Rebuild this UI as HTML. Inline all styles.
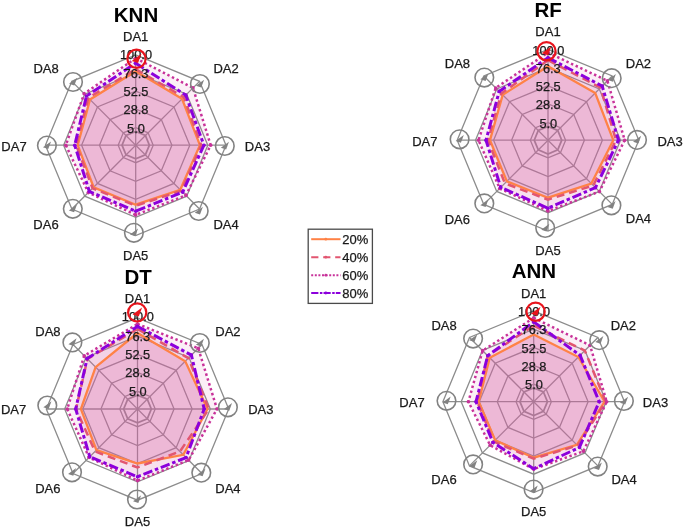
<!DOCTYPE html>
<html><head><meta charset="utf-8"><title>Radar charts</title>
<style>
html,body{margin:0;padding:0;background:#fff;}
body{width:685px;height:527px;position:relative;overflow:hidden;font-family:"Liberation Sans",sans-serif;}
svg text{font-family:"Liberation Sans",sans-serif;}
</style></head><body>
<svg width="685" height="527" viewBox="0 0 685 527" style="position:absolute;left:0;top:0;filter:blur(0.5px)">
<polygon points="135.70,131.52 145.37,135.53 149.38,145.20 145.37,154.87 135.70,158.88 126.03,154.87 122.02,145.20 126.03,135.53" fill="none" stroke="#8c8c8c" stroke-width="1.8"/>
<polygon points="135.70,127.68 148.09,132.81 153.22,145.20 148.09,157.59 135.70,162.72 123.31,157.59 118.18,145.20 123.31,132.81" fill="none" stroke="#8c8c8c" stroke-width="1.3"/>
<polygon points="135.70,108.99 161.30,119.60 171.91,145.20 161.30,170.80 135.70,181.41 110.10,170.80 99.49,145.20 110.10,119.60" fill="none" stroke="#8c8c8c" stroke-width="1.3"/>
<polygon points="135.70,91.11 173.95,106.95 189.79,145.20 173.95,183.45 135.70,199.29 97.45,183.45 81.61,145.20 97.45,106.95" fill="none" stroke="#8c8c8c" stroke-width="1.3"/>
<polygon points="135.70,73.10 186.69,94.21 207.80,145.20 186.69,196.19 135.70,217.30 84.71,196.19 63.60,145.20 84.71,94.21" fill="none" stroke="#8c8c8c" stroke-width="1.3"/>
<polygon points="135.70,54.90 199.55,81.35 226.00,145.20 199.55,209.05 135.70,235.50 71.85,209.05 45.40,145.20 71.85,81.35" fill="none" stroke="#8c8c8c" stroke-width="1.3"/>
<line x1="135.70" y1="145.20" x2="135.70" y2="54.90" stroke="#8c8c8c" stroke-width="1.3"/>
<line x1="135.70" y1="145.20" x2="199.55" y2="81.35" stroke="#8c8c8c" stroke-width="1.3"/>
<line x1="135.70" y1="145.20" x2="226.00" y2="145.20" stroke="#8c8c8c" stroke-width="1.3"/>
<line x1="135.70" y1="145.20" x2="199.55" y2="209.05" stroke="#8c8c8c" stroke-width="1.3"/>
<line x1="135.70" y1="145.20" x2="135.70" y2="235.50" stroke="#8c8c8c" stroke-width="1.3"/>
<line x1="135.70" y1="145.20" x2="71.85" y2="209.05" stroke="#8c8c8c" stroke-width="1.3"/>
<line x1="135.70" y1="145.20" x2="45.40" y2="145.20" stroke="#8c8c8c" stroke-width="1.3"/>
<line x1="135.70" y1="145.20" x2="71.85" y2="81.35" stroke="#8c8c8c" stroke-width="1.3"/>
<polygon points="135.70,71.20 182.02,98.88 199.90,145.20 180.25,189.75 135.70,204.70 93.63,187.27 77.70,145.20 90.02,99.52" fill="#d763a4" fill-opacity="0.245" stroke="none"/>
<polygon points="135.70,69.20 183.78,97.12 201.20,145.20 181.31,190.81 135.70,205.70 92.57,188.33 76.20,145.20 88.32,97.82" fill="#d763a4" fill-opacity="0.1" stroke="none"/>
<polygon points="135.70,58.20 192.98,87.92 210.70,145.20 185.90,195.40 135.70,214.90 88.32,192.58 65.80,145.20 84.15,93.65" fill="#d763a4" fill-opacity="0.1" stroke="none"/>
<polygon points="135.70,63.20 185.76,95.14 203.90,145.20 182.65,192.15 135.70,211.20 89.38,191.52 74.70,145.20 86.49,95.99" fill="#d763a4" fill-opacity="0.1" stroke="none"/>
<polygon points="135.70,71.20 182.02,98.88 199.90,145.20 180.25,189.75 135.70,204.70 93.63,187.27 77.70,145.20 90.02,99.52" fill="none" stroke="#ff8246" stroke-width="2.3" stroke-linejoin="miter"/>
<polygon points="135.70,69.20 183.78,97.12 201.20,145.20 181.31,190.81 135.70,205.70 92.57,188.33 76.20,145.20 88.32,97.82" fill="none" stroke="#e25670" stroke-width="2.5" stroke-linejoin="miter" stroke-dasharray="8,5"/>
<polygon points="135.70,58.20 192.98,87.92 210.70,145.20 185.90,195.40 135.70,214.90 88.32,192.58 65.80,145.20 84.15,93.65" fill="none" stroke="#c8329a" stroke-width="2.5" stroke-linejoin="miter" stroke-dasharray="2.4,2.7"/>
<polygon points="135.70,63.20 185.76,95.14 203.90,145.20 182.65,192.15 135.70,211.20 89.38,191.52 74.70,145.20 86.49,95.99" fill="none" stroke="#8c00dc" stroke-width="3.0" stroke-linejoin="miter" stroke-dasharray="9.5,2.8,3.5,2.8"/>
<circle cx="135.70" cy="58.20" r="1.8" fill="#c8329a"/>
<circle cx="192.98" cy="87.92" r="1.8" fill="#c8329a"/>
<circle cx="210.70" cy="145.20" r="1.8" fill="#c8329a"/>
<circle cx="185.90" cy="195.40" r="1.8" fill="#c8329a"/>
<circle cx="135.70" cy="214.90" r="1.8" fill="#c8329a"/>
<circle cx="88.32" cy="192.58" r="1.8" fill="#c8329a"/>
<circle cx="65.80" cy="145.20" r="1.8" fill="#c8329a"/>
<circle cx="84.15" cy="93.65" r="1.8" fill="#c8329a"/>
<circle cx="135.70" cy="63.20" r="1.8" fill="#8c00dc"/>
<circle cx="185.76" cy="95.14" r="1.8" fill="#8c00dc"/>
<circle cx="203.90" cy="145.20" r="1.8" fill="#8c00dc"/>
<circle cx="182.65" cy="192.15" r="1.8" fill="#8c00dc"/>
<circle cx="135.70" cy="211.20" r="1.8" fill="#8c00dc"/>
<circle cx="89.38" cy="191.52" r="1.8" fill="#8c00dc"/>
<circle cx="74.70" cy="145.20" r="1.8" fill="#8c00dc"/>
<circle cx="86.49" cy="95.99" r="1.8" fill="#8c00dc"/>
<text x="136.00" y="54.50" font-size="12.8" text-anchor="middle" fill="#1a1a1a" stroke="#1a1a1a" stroke-width="0.25" dominant-baseline="central">100.0</text>
<text x="136.00" y="73.50" font-size="12.8" text-anchor="middle" fill="#1a1a1a" stroke="#1a1a1a" stroke-width="0.25" dominant-baseline="central">76.3</text>
<text x="136.00" y="91.51" font-size="12.8" text-anchor="middle" fill="#1a1a1a" stroke="#1a1a1a" stroke-width="0.25" dominant-baseline="central">52.5</text>
<text x="136.00" y="109.39" font-size="12.8" text-anchor="middle" fill="#1a1a1a" stroke="#1a1a1a" stroke-width="0.25" dominant-baseline="central">28.8</text>
<text x="136.00" y="128.08" font-size="12.8" text-anchor="middle" fill="#1a1a1a" stroke="#1a1a1a" stroke-width="0.25" dominant-baseline="central">5.0</text>
<circle cx="136.50" cy="58.80" r="9.1" fill="none" stroke="#e8141c" stroke-width="2.2"/>
<polygon points="141.44,53.86 131.82,60.88 138.06,62.96" fill="#e8141c"/>
<circle cx="199.90" cy="84.00" r="9.3" fill="none" stroke="#828282" stroke-width="1.6"/>
<polygon points="204.08,79.82 195.94,85.76 201.22,87.52" fill="#828282"/>
<circle cx="224.80" cy="146.00" r="9.3" fill="none" stroke="#828282" stroke-width="1.6"/>
<polygon points="228.98,141.82 220.84,147.76 226.12,149.52" fill="#828282"/>
<circle cx="198.70" cy="211.00" r="9.3" fill="none" stroke="#828282" stroke-width="1.6"/>
<polygon points="202.88,206.82 194.74,212.76 200.02,214.52" fill="#828282"/>
<circle cx="133.90" cy="232.80" r="9.3" fill="none" stroke="#828282" stroke-width="1.6"/>
<polygon points="138.08,228.62 129.94,234.56 135.22,236.32" fill="#828282"/>
<circle cx="72.80" cy="208.80" r="9.3" fill="none" stroke="#828282" stroke-width="1.6"/>
<polygon points="76.98,204.62 68.84,210.56 74.12,212.32" fill="#828282"/>
<circle cx="46.90" cy="145.60" r="9.3" fill="none" stroke="#828282" stroke-width="1.6"/>
<polygon points="51.08,141.42 42.94,147.36 48.22,149.12" fill="#828282"/>
<circle cx="73.00" cy="82.00" r="9.3" fill="none" stroke="#828282" stroke-width="1.6"/>
<polygon points="77.18,77.82 69.04,83.76 74.32,85.52" fill="#828282"/>
<text x="135.70" y="36.40" font-size="13" text-anchor="middle" fill="#1a1a1a" stroke="#1a1a1a" stroke-width="0.25" dominant-baseline="central">DA1</text>
<text x="226.10" y="68.70" font-size="13" text-anchor="middle" fill="#1a1a1a" stroke="#1a1a1a" stroke-width="0.25" dominant-baseline="central">DA2</text>
<text x="257.50" y="146.30" font-size="13" text-anchor="middle" fill="#1a1a1a" stroke="#1a1a1a" stroke-width="0.25" dominant-baseline="central">DA3</text>
<text x="226.10" y="224.00" font-size="13" text-anchor="middle" fill="#1a1a1a" stroke="#1a1a1a" stroke-width="0.25" dominant-baseline="central">DA4</text>
<text x="135.70" y="255.50" font-size="13" text-anchor="middle" fill="#1a1a1a" stroke="#1a1a1a" stroke-width="0.25" dominant-baseline="central">DA5</text>
<text x="46.00" y="224.00" font-size="13" text-anchor="middle" fill="#1a1a1a" stroke="#1a1a1a" stroke-width="0.25" dominant-baseline="central">DA6</text>
<text x="14.00" y="146.30" font-size="13" text-anchor="middle" fill="#1a1a1a" stroke="#1a1a1a" stroke-width="0.25" dominant-baseline="central">DA7</text>
<text x="46.10" y="68.70" font-size="13" text-anchor="middle" fill="#1a1a1a" stroke="#1a1a1a" stroke-width="0.25" dominant-baseline="central">DA8</text>
<text x="136.00" y="21.60" font-size="20.5" font-weight="bold" text-anchor="middle" fill="#000">KNN</text>
<polygon points="548.00,126.44 557.73,130.47 561.76,140.20 557.73,149.93 548.00,153.96 538.27,149.93 534.24,140.20 538.27,130.47" fill="none" stroke="#8c8c8c" stroke-width="1.8"/>
<polygon points="548.00,122.58 560.46,127.74 565.62,140.20 560.46,152.66 548.00,157.82 535.54,152.66 530.38,140.20 535.54,127.74" fill="none" stroke="#8c8c8c" stroke-width="1.3"/>
<polygon points="548.00,103.79 573.75,114.45 584.41,140.20 573.75,165.95 548.00,176.61 522.25,165.95 511.59,140.20 522.25,114.45" fill="none" stroke="#8c8c8c" stroke-width="1.3"/>
<polygon points="548.00,85.81 586.46,101.74 602.39,140.20 586.46,178.66 548.00,194.59 509.54,178.66 493.61,140.20 509.54,101.74" fill="none" stroke="#8c8c8c" stroke-width="1.3"/>
<polygon points="548.00,67.70 599.27,88.93 620.50,140.20 599.27,191.47 548.00,212.70 496.73,191.47 475.50,140.20 496.73,88.93" fill="none" stroke="#8c8c8c" stroke-width="1.3"/>
<polygon points="548.00,49.40 612.21,75.99 638.80,140.20 612.21,204.41 548.00,231.00 483.79,204.41 457.20,140.20 483.79,75.99" fill="none" stroke="#8c8c8c" stroke-width="1.3"/>
<line x1="548.00" y1="140.20" x2="548.00" y2="49.40" stroke="#8c8c8c" stroke-width="1.3"/>
<line x1="548.00" y1="140.20" x2="612.21" y2="75.99" stroke="#8c8c8c" stroke-width="1.3"/>
<line x1="548.00" y1="140.20" x2="638.80" y2="140.20" stroke="#8c8c8c" stroke-width="1.3"/>
<line x1="548.00" y1="140.20" x2="612.21" y2="204.41" stroke="#8c8c8c" stroke-width="1.3"/>
<line x1="548.00" y1="140.20" x2="548.00" y2="231.00" stroke="#8c8c8c" stroke-width="1.3"/>
<line x1="548.00" y1="140.20" x2="483.79" y2="204.41" stroke="#8c8c8c" stroke-width="1.3"/>
<line x1="548.00" y1="140.20" x2="457.20" y2="140.20" stroke="#8c8c8c" stroke-width="1.3"/>
<line x1="548.00" y1="140.20" x2="483.79" y2="75.99" stroke="#8c8c8c" stroke-width="1.3"/>
<polygon points="548.00,66.20 595.23,92.97 613.30,140.20 591.35,183.55 548.00,197.70 506.85,181.35 490.00,140.20 502.67,94.87" fill="#d763a4" fill-opacity="0.245" stroke="none"/>
<polygon points="548.00,60.20 600.54,87.66 616.00,140.20 593.25,185.45 548.00,199.60 504.87,183.33 488.00,140.20 501.33,93.53" fill="#d763a4" fill-opacity="0.1" stroke="none"/>
<polygon points="548.00,52.60 607.40,80.80 624.70,140.20 599.41,191.61 548.00,211.00 499.70,188.50 478.50,140.20 495.74,87.94" fill="#d763a4" fill-opacity="0.1" stroke="none"/>
<polygon points="548.00,57.70 602.16,86.04 618.50,140.20 595.45,187.65 548.00,208.20 500.77,187.43 486.00,140.20 499.21,91.41" fill="#d763a4" fill-opacity="0.1" stroke="none"/>
<polygon points="548.00,66.20 595.23,92.97 613.30,140.20 591.35,183.55 548.00,197.70 506.85,181.35 490.00,140.20 502.67,94.87" fill="none" stroke="#ff8246" stroke-width="2.3" stroke-linejoin="miter"/>
<polygon points="548.00,60.20 600.54,87.66 616.00,140.20 593.25,185.45 548.00,199.60 504.87,183.33 488.00,140.20 501.33,93.53" fill="none" stroke="#e25670" stroke-width="2.5" stroke-linejoin="miter" stroke-dasharray="8,5"/>
<polygon points="548.00,52.60 607.40,80.80 624.70,140.20 599.41,191.61 548.00,211.00 499.70,188.50 478.50,140.20 495.74,87.94" fill="none" stroke="#c8329a" stroke-width="2.5" stroke-linejoin="miter" stroke-dasharray="2.4,2.7"/>
<polygon points="548.00,57.70 602.16,86.04 618.50,140.20 595.45,187.65 548.00,208.20 500.77,187.43 486.00,140.20 499.21,91.41" fill="none" stroke="#8c00dc" stroke-width="3.0" stroke-linejoin="miter" stroke-dasharray="9.5,2.8,3.5,2.8"/>
<circle cx="548.00" cy="52.60" r="1.8" fill="#c8329a"/>
<circle cx="607.40" cy="80.80" r="1.8" fill="#c8329a"/>
<circle cx="624.70" cy="140.20" r="1.8" fill="#c8329a"/>
<circle cx="599.41" cy="191.61" r="1.8" fill="#c8329a"/>
<circle cx="548.00" cy="211.00" r="1.8" fill="#c8329a"/>
<circle cx="499.70" cy="188.50" r="1.8" fill="#c8329a"/>
<circle cx="478.50" cy="140.20" r="1.8" fill="#c8329a"/>
<circle cx="495.74" cy="87.94" r="1.8" fill="#c8329a"/>
<circle cx="548.00" cy="57.70" r="1.8" fill="#8c00dc"/>
<circle cx="602.16" cy="86.04" r="1.8" fill="#8c00dc"/>
<circle cx="618.50" cy="140.20" r="1.8" fill="#8c00dc"/>
<circle cx="595.45" cy="187.65" r="1.8" fill="#8c00dc"/>
<circle cx="548.00" cy="208.20" r="1.8" fill="#8c00dc"/>
<circle cx="500.77" cy="187.43" r="1.8" fill="#8c00dc"/>
<circle cx="486.00" cy="140.20" r="1.8" fill="#8c00dc"/>
<circle cx="499.21" cy="91.41" r="1.8" fill="#8c00dc"/>
<text x="548.30" y="50.20" font-size="12.8" text-anchor="middle" fill="#1a1a1a" stroke="#1a1a1a" stroke-width="0.25" dominant-baseline="central">100.0</text>
<text x="548.30" y="68.50" font-size="12.8" text-anchor="middle" fill="#1a1a1a" stroke="#1a1a1a" stroke-width="0.25" dominant-baseline="central">76.3</text>
<text x="548.30" y="86.61" font-size="12.8" text-anchor="middle" fill="#1a1a1a" stroke="#1a1a1a" stroke-width="0.25" dominant-baseline="central">52.5</text>
<text x="548.30" y="104.59" font-size="12.8" text-anchor="middle" fill="#1a1a1a" stroke="#1a1a1a" stroke-width="0.25" dominant-baseline="central">28.8</text>
<text x="548.30" y="123.38" font-size="12.8" text-anchor="middle" fill="#1a1a1a" stroke="#1a1a1a" stroke-width="0.25" dominant-baseline="central">5.0</text>
<circle cx="546.50" cy="51.20" r="9.1" fill="none" stroke="#e8141c" stroke-width="2.2"/>
<polygon points="551.44,46.26 541.82,53.28 548.06,55.36" fill="#e8141c"/>
<circle cx="611.70" cy="78.20" r="9.3" fill="none" stroke="#828282" stroke-width="1.6"/>
<polygon points="615.88,74.02 607.74,79.96 613.02,81.72" fill="#828282"/>
<circle cx="637.00" cy="139.90" r="9.3" fill="none" stroke="#828282" stroke-width="1.6"/>
<polygon points="641.18,135.72 633.04,141.66 638.32,143.42" fill="#828282"/>
<circle cx="611.40" cy="205.30" r="9.3" fill="none" stroke="#828282" stroke-width="1.6"/>
<polygon points="615.58,201.12 607.44,207.06 612.72,208.82" fill="#828282"/>
<circle cx="545.20" cy="228.00" r="9.3" fill="none" stroke="#828282" stroke-width="1.6"/>
<polygon points="549.38,223.82 541.24,229.76 546.52,231.52" fill="#828282"/>
<circle cx="484.30" cy="203.40" r="9.3" fill="none" stroke="#828282" stroke-width="1.6"/>
<polygon points="488.48,199.22 480.34,205.16 485.62,206.92" fill="#828282"/>
<circle cx="459.60" cy="139.30" r="9.3" fill="none" stroke="#828282" stroke-width="1.6"/>
<polygon points="463.78,135.12 455.64,141.06 460.92,142.82" fill="#828282"/>
<circle cx="484.30" cy="77.60" r="9.3" fill="none" stroke="#828282" stroke-width="1.6"/>
<polygon points="488.48,73.42 480.34,79.36 485.62,81.12" fill="#828282"/>
<text x="548.00" y="31.10" font-size="13" text-anchor="middle" fill="#1a1a1a" stroke="#1a1a1a" stroke-width="0.25" dominant-baseline="central">DA1</text>
<text x="638.40" y="63.70" font-size="13" text-anchor="middle" fill="#1a1a1a" stroke="#1a1a1a" stroke-width="0.25" dominant-baseline="central">DA2</text>
<text x="670.10" y="141.30" font-size="13" text-anchor="middle" fill="#1a1a1a" stroke="#1a1a1a" stroke-width="0.25" dominant-baseline="central">DA3</text>
<text x="638.40" y="218.10" font-size="13" text-anchor="middle" fill="#1a1a1a" stroke="#1a1a1a" stroke-width="0.25" dominant-baseline="central">DA4</text>
<text x="548.00" y="250.80" font-size="13" text-anchor="middle" fill="#1a1a1a" stroke="#1a1a1a" stroke-width="0.25" dominant-baseline="central">DA5</text>
<text x="457.30" y="219.00" font-size="13" text-anchor="middle" fill="#1a1a1a" stroke="#1a1a1a" stroke-width="0.25" dominant-baseline="central">DA6</text>
<text x="424.80" y="141.30" font-size="13" text-anchor="middle" fill="#1a1a1a" stroke="#1a1a1a" stroke-width="0.25" dominant-baseline="central">DA7</text>
<text x="457.40" y="63.70" font-size="13" text-anchor="middle" fill="#1a1a1a" stroke="#1a1a1a" stroke-width="0.25" dominant-baseline="central">DA8</text>
<text x="548.20" y="16.50" font-size="20.5" font-weight="bold" text-anchor="middle" fill="#000">RF</text>
<polygon points="137.50,395.18 147.27,399.23 151.32,409.00 147.27,418.77 137.50,422.82 127.73,418.77 123.68,409.00 127.73,399.23" fill="none" stroke="#8c8c8c" stroke-width="1.8"/>
<polygon points="137.50,391.31 150.01,396.49 155.19,409.00 150.01,421.51 137.50,426.69 124.99,421.51 119.81,409.00 124.99,396.49" fill="none" stroke="#8c8c8c" stroke-width="1.3"/>
<polygon points="137.50,372.43 163.36,383.14 174.07,409.00 163.36,434.86 137.50,445.57 111.64,434.86 100.93,409.00 111.64,383.14" fill="none" stroke="#8c8c8c" stroke-width="1.3"/>
<polygon points="137.50,354.37 176.13,370.37 192.13,409.00 176.13,447.63 137.50,463.63 98.87,447.63 82.87,409.00 98.87,370.37" fill="none" stroke="#8c8c8c" stroke-width="1.3"/>
<polygon points="137.50,336.18 188.99,357.51 210.32,409.00 188.99,460.49 137.50,481.82 86.01,460.49 64.68,409.00 86.01,357.51" fill="none" stroke="#8c8c8c" stroke-width="1.3"/>
<polygon points="137.50,317.80 201.99,344.51 228.70,409.00 201.99,473.49 137.50,500.20 73.01,473.49 46.30,409.00 73.01,344.51" fill="none" stroke="#8c8c8c" stroke-width="1.3"/>
<line x1="137.50" y1="409.00" x2="137.50" y2="317.80" stroke="#8c8c8c" stroke-width="1.3"/>
<line x1="137.50" y1="409.00" x2="201.99" y2="344.51" stroke="#8c8c8c" stroke-width="1.3"/>
<line x1="137.50" y1="409.00" x2="228.70" y2="409.00" stroke="#8c8c8c" stroke-width="1.3"/>
<line x1="137.50" y1="409.00" x2="201.99" y2="473.49" stroke="#8c8c8c" stroke-width="1.3"/>
<line x1="137.50" y1="409.00" x2="137.50" y2="500.20" stroke="#8c8c8c" stroke-width="1.3"/>
<line x1="137.50" y1="409.00" x2="73.01" y2="473.49" stroke="#8c8c8c" stroke-width="1.3"/>
<line x1="137.50" y1="409.00" x2="46.30" y2="409.00" stroke="#8c8c8c" stroke-width="1.3"/>
<line x1="137.50" y1="409.00" x2="73.01" y2="344.51" stroke="#8c8c8c" stroke-width="1.3"/>
<polygon points="137.50,333.00 185.23,361.27 207.50,409.00 183.32,454.82 137.50,463.50 96.42,450.08 80.90,409.00 95.57,367.07" fill="#d763a4" fill-opacity="0.245" stroke="none"/>
<polygon points="137.50,329.00 188.41,358.09 208.90,409.00 179.93,451.43 137.50,467.50 95.07,451.43 76.00,409.00 87.44,358.94" fill="#d763a4" fill-opacity="0.1" stroke="none"/>
<polygon points="137.50,324.00 198.24,348.26 217.00,409.00 188.62,460.12 137.50,480.60 89.06,457.44 67.20,409.00 84.25,355.75" fill="#d763a4" fill-opacity="0.1" stroke="none"/>
<polygon points="137.50,326.40 191.38,355.12 204.20,409.00 186.08,457.58 137.50,476.80 89.77,456.73 75.70,409.00 87.08,358.58" fill="#d763a4" fill-opacity="0.1" stroke="none"/>
<polygon points="137.50,333.00 185.23,361.27 207.50,409.00 183.32,454.82 137.50,463.50 96.42,450.08 80.90,409.00 95.57,367.07" fill="none" stroke="#ff8246" stroke-width="2.3" stroke-linejoin="miter"/>
<polygon points="137.50,329.00 188.41,358.09 208.90,409.00 179.93,451.43 137.50,467.50 95.07,451.43 76.00,409.00 87.44,358.94" fill="none" stroke="#e25670" stroke-width="2.5" stroke-linejoin="miter" stroke-dasharray="8,5"/>
<polygon points="137.50,324.00 198.24,348.26 217.00,409.00 188.62,460.12 137.50,480.60 89.06,457.44 67.20,409.00 84.25,355.75" fill="none" stroke="#c8329a" stroke-width="2.5" stroke-linejoin="miter" stroke-dasharray="2.4,2.7"/>
<polygon points="137.50,326.40 191.38,355.12 204.20,409.00 186.08,457.58 137.50,476.80 89.77,456.73 75.70,409.00 87.08,358.58" fill="none" stroke="#8c00dc" stroke-width="3.0" stroke-linejoin="miter" stroke-dasharray="9.5,2.8,3.5,2.8"/>
<circle cx="137.50" cy="324.00" r="1.8" fill="#c8329a"/>
<circle cx="198.24" cy="348.26" r="1.8" fill="#c8329a"/>
<circle cx="217.00" cy="409.00" r="1.8" fill="#c8329a"/>
<circle cx="188.62" cy="460.12" r="1.8" fill="#c8329a"/>
<circle cx="137.50" cy="480.60" r="1.8" fill="#c8329a"/>
<circle cx="89.06" cy="457.44" r="1.8" fill="#c8329a"/>
<circle cx="67.20" cy="409.00" r="1.8" fill="#c8329a"/>
<circle cx="84.25" cy="355.75" r="1.8" fill="#c8329a"/>
<circle cx="137.50" cy="326.40" r="1.8" fill="#8c00dc"/>
<circle cx="191.38" cy="355.12" r="1.8" fill="#8c00dc"/>
<circle cx="204.20" cy="409.00" r="1.8" fill="#8c00dc"/>
<circle cx="186.08" cy="457.58" r="1.8" fill="#8c00dc"/>
<circle cx="137.50" cy="476.80" r="1.8" fill="#8c00dc"/>
<circle cx="89.77" cy="456.73" r="1.8" fill="#8c00dc"/>
<circle cx="75.70" cy="409.00" r="1.8" fill="#8c00dc"/>
<circle cx="87.08" cy="358.58" r="1.8" fill="#8c00dc"/>
<text x="137.80" y="316.80" font-size="12.8" text-anchor="middle" fill="#1a1a1a" stroke="#1a1a1a" stroke-width="0.25" dominant-baseline="central">100.0</text>
<text x="137.80" y="336.18" font-size="12.8" text-anchor="middle" fill="#1a1a1a" stroke="#1a1a1a" stroke-width="0.25" dominant-baseline="central">76.3</text>
<text x="137.80" y="354.87" font-size="12.8" text-anchor="middle" fill="#1a1a1a" stroke="#1a1a1a" stroke-width="0.25" dominant-baseline="central">52.5</text>
<text x="137.80" y="372.73" font-size="12.8" text-anchor="middle" fill="#1a1a1a" stroke="#1a1a1a" stroke-width="0.25" dominant-baseline="central">28.8</text>
<text x="137.80" y="391.31" font-size="12.8" text-anchor="middle" fill="#1a1a1a" stroke="#1a1a1a" stroke-width="0.25" dominant-baseline="central">5.0</text>
<circle cx="137.20" cy="312.40" r="9.1" fill="none" stroke="#e8141c" stroke-width="2.2"/>
<polygon points="142.14,307.46 132.52,314.48 138.76,316.56" fill="#e8141c"/>
<circle cx="199.80" cy="343.00" r="9.3" fill="none" stroke="#828282" stroke-width="1.6"/>
<polygon points="203.98,338.82 195.84,344.76 201.12,346.52" fill="#828282"/>
<circle cx="227.90" cy="407.30" r="9.3" fill="none" stroke="#828282" stroke-width="1.6"/>
<polygon points="232.08,403.12 223.94,409.06 229.22,410.82" fill="#828282"/>
<circle cx="201.30" cy="472.70" r="9.3" fill="none" stroke="#828282" stroke-width="1.6"/>
<polygon points="205.48,468.52 197.34,474.46 202.62,476.22" fill="#828282"/>
<circle cx="137.00" cy="499.50" r="9.3" fill="none" stroke="#828282" stroke-width="1.6"/>
<polygon points="141.18,495.32 133.04,501.26 138.32,503.02" fill="#828282"/>
<circle cx="72.00" cy="472.30" r="9.3" fill="none" stroke="#828282" stroke-width="1.6"/>
<polygon points="76.18,468.12 68.04,474.06 73.32,475.82" fill="#828282"/>
<circle cx="47.30" cy="405.50" r="9.3" fill="none" stroke="#828282" stroke-width="1.6"/>
<polygon points="51.48,401.32 43.34,407.26 48.62,409.02" fill="#828282"/>
<circle cx="72.40" cy="342.40" r="9.3" fill="none" stroke="#828282" stroke-width="1.6"/>
<polygon points="76.58,338.22 68.44,344.16 73.72,345.92" fill="#828282"/>
<text x="137.50" y="298.60" font-size="13" text-anchor="middle" fill="#1a1a1a" stroke="#1a1a1a" stroke-width="0.25" dominant-baseline="central">DA1</text>
<text x="227.90" y="331.00" font-size="13" text-anchor="middle" fill="#1a1a1a" stroke="#1a1a1a" stroke-width="0.25" dominant-baseline="central">DA2</text>
<text x="260.80" y="409.30" font-size="13" text-anchor="middle" fill="#1a1a1a" stroke="#1a1a1a" stroke-width="0.25" dominant-baseline="central">DA3</text>
<text x="227.90" y="488.80" font-size="13" text-anchor="middle" fill="#1a1a1a" stroke="#1a1a1a" stroke-width="0.25" dominant-baseline="central">DA4</text>
<text x="137.50" y="521.00" font-size="13" text-anchor="middle" fill="#1a1a1a" stroke="#1a1a1a" stroke-width="0.25" dominant-baseline="central">DA5</text>
<text x="47.80" y="488.80" font-size="13" text-anchor="middle" fill="#1a1a1a" stroke="#1a1a1a" stroke-width="0.25" dominant-baseline="central">DA6</text>
<text x="13.60" y="409.40" font-size="13" text-anchor="middle" fill="#1a1a1a" stroke="#1a1a1a" stroke-width="0.25" dominant-baseline="central">DA7</text>
<text x="47.90" y="331.00" font-size="13" text-anchor="middle" fill="#1a1a1a" stroke="#1a1a1a" stroke-width="0.25" dominant-baseline="central">DA8</text>
<text x="138.20" y="283.50" font-size="20.5" font-weight="bold" text-anchor="middle" fill="#000">DT</text>
<polygon points="533.70,387.94 543.43,391.97 547.46,401.70 543.43,411.43 533.70,415.46 523.97,411.43 519.94,401.70 523.97,391.97" fill="none" stroke="#8c8c8c" stroke-width="1.8"/>
<polygon points="533.70,384.08 546.16,389.24 551.32,401.70 546.16,414.16 533.70,419.32 521.24,414.16 516.08,401.70 521.24,389.24" fill="none" stroke="#8c8c8c" stroke-width="1.3"/>
<polygon points="533.70,365.29 559.45,375.95 570.11,401.70 559.45,427.45 533.70,438.11 507.95,427.45 497.29,401.70 507.95,375.95" fill="none" stroke="#8c8c8c" stroke-width="1.3"/>
<polygon points="533.70,347.31 572.16,363.24 588.09,401.70 572.16,440.16 533.70,456.09 495.24,440.16 479.31,401.70 495.24,363.24" fill="none" stroke="#8c8c8c" stroke-width="1.3"/>
<polygon points="533.70,329.20 584.97,350.43 606.20,401.70 584.97,452.97 533.70,474.20 482.43,452.97 461.20,401.70 482.43,350.43" fill="none" stroke="#8c8c8c" stroke-width="1.3"/>
<polygon points="533.70,310.90 597.91,337.49 624.50,401.70 597.91,465.91 533.70,492.50 469.49,465.91 442.90,401.70 469.49,337.49" fill="none" stroke="#8c8c8c" stroke-width="1.3"/>
<line x1="533.70" y1="401.70" x2="533.70" y2="310.90" stroke="#8c8c8c" stroke-width="1.3"/>
<line x1="533.70" y1="401.70" x2="597.91" y2="337.49" stroke="#8c8c8c" stroke-width="1.3"/>
<line x1="533.70" y1="401.70" x2="624.50" y2="401.70" stroke="#8c8c8c" stroke-width="1.3"/>
<line x1="533.70" y1="401.70" x2="597.91" y2="465.91" stroke="#8c8c8c" stroke-width="1.3"/>
<line x1="533.70" y1="401.70" x2="533.70" y2="492.50" stroke="#8c8c8c" stroke-width="1.3"/>
<line x1="533.70" y1="401.70" x2="469.49" y2="465.91" stroke="#8c8c8c" stroke-width="1.3"/>
<line x1="533.70" y1="401.70" x2="442.90" y2="401.70" stroke="#8c8c8c" stroke-width="1.3"/>
<line x1="533.70" y1="401.70" x2="469.49" y2="337.49" stroke="#8c8c8c" stroke-width="1.3"/>
<polygon points="533.70,334.50 578.39,357.01 604.70,401.70 576.83,444.83 533.70,457.70 495.16,440.24 478.70,401.70 489.72,357.72" fill="#d763a4" fill-opacity="0.245" stroke="none"/>
<polygon points="533.70,325.70 584.82,350.58 605.70,401.70 577.54,445.54 533.70,458.70 493.75,441.65 477.20,401.70 487.74,355.74" fill="#d763a4" fill-opacity="0.1" stroke="none"/>
<polygon points="533.70,317.90 590.06,345.34 606.70,401.70 583.34,451.34 533.70,469.20 490.14,445.26 468.40,401.70 482.65,350.65" fill="#d763a4" fill-opacity="0.1" stroke="none"/>
<polygon points="533.70,321.90 580.09,355.31 599.20,401.70 579.45,447.45 533.70,468.70 492.97,442.43 476.00,401.70 487.74,355.74" fill="#d763a4" fill-opacity="0.1" stroke="none"/>
<polygon points="533.70,334.50 578.39,357.01 604.70,401.70 576.83,444.83 533.70,457.70 495.16,440.24 478.70,401.70 489.72,357.72" fill="none" stroke="#ff8246" stroke-width="2.3" stroke-linejoin="miter"/>
<polygon points="533.70,325.70 584.82,350.58 605.70,401.70 577.54,445.54 533.70,458.70 493.75,441.65 477.20,401.70 487.74,355.74" fill="none" stroke="#e25670" stroke-width="2.5" stroke-linejoin="miter" stroke-dasharray="8,5"/>
<polygon points="533.70,317.90 590.06,345.34 606.70,401.70 583.34,451.34 533.70,469.20 490.14,445.26 468.40,401.70 482.65,350.65" fill="none" stroke="#c8329a" stroke-width="2.5" stroke-linejoin="miter" stroke-dasharray="2.4,2.7"/>
<polygon points="533.70,321.90 580.09,355.31 599.20,401.70 579.45,447.45 533.70,468.70 492.97,442.43 476.00,401.70 487.74,355.74" fill="none" stroke="#8c00dc" stroke-width="3.0" stroke-linejoin="miter" stroke-dasharray="9.5,2.8,3.5,2.8"/>
<circle cx="533.70" cy="317.90" r="1.8" fill="#c8329a"/>
<circle cx="590.06" cy="345.34" r="1.8" fill="#c8329a"/>
<circle cx="606.70" cy="401.70" r="1.8" fill="#c8329a"/>
<circle cx="583.34" cy="451.34" r="1.8" fill="#c8329a"/>
<circle cx="533.70" cy="469.20" r="1.8" fill="#c8329a"/>
<circle cx="490.14" cy="445.26" r="1.8" fill="#c8329a"/>
<circle cx="468.40" cy="401.70" r="1.8" fill="#c8329a"/>
<circle cx="482.65" cy="350.65" r="1.8" fill="#c8329a"/>
<circle cx="533.70" cy="321.90" r="1.8" fill="#8c00dc"/>
<circle cx="580.09" cy="355.31" r="1.8" fill="#8c00dc"/>
<circle cx="599.20" cy="401.70" r="1.8" fill="#8c00dc"/>
<circle cx="579.45" cy="447.45" r="1.8" fill="#8c00dc"/>
<circle cx="533.70" cy="468.70" r="1.8" fill="#8c00dc"/>
<circle cx="492.97" cy="442.43" r="1.8" fill="#8c00dc"/>
<circle cx="476.00" cy="401.70" r="1.8" fill="#8c00dc"/>
<circle cx="487.74" cy="355.74" r="1.8" fill="#8c00dc"/>
<text x="534.00" y="311.70" font-size="12.8" text-anchor="middle" fill="#1a1a1a" stroke="#1a1a1a" stroke-width="0.25" dominant-baseline="central">100.0</text>
<text x="534.00" y="329.50" font-size="12.8" text-anchor="middle" fill="#1a1a1a" stroke="#1a1a1a" stroke-width="0.25" dominant-baseline="central">76.3</text>
<text x="534.00" y="348.11" font-size="12.8" text-anchor="middle" fill="#1a1a1a" stroke="#1a1a1a" stroke-width="0.25" dominant-baseline="central">52.5</text>
<text x="534.00" y="366.09" font-size="12.8" text-anchor="middle" fill="#1a1a1a" stroke="#1a1a1a" stroke-width="0.25" dominant-baseline="central">28.8</text>
<text x="534.00" y="384.88" font-size="12.8" text-anchor="middle" fill="#1a1a1a" stroke="#1a1a1a" stroke-width="0.25" dominant-baseline="central">5.0</text>
<circle cx="535.60" cy="311.70" r="9.1" fill="none" stroke="#e8141c" stroke-width="2.2"/>
<polygon points="540.54,306.76 530.92,313.78 537.16,315.86" fill="#e8141c"/>
<circle cx="599.20" cy="340.20" r="9.3" fill="none" stroke="#828282" stroke-width="1.6"/>
<polygon points="603.38,336.02 595.24,341.96 600.52,343.72" fill="#828282"/>
<circle cx="623.90" cy="401.00" r="9.3" fill="none" stroke="#828282" stroke-width="1.6"/>
<polygon points="628.08,396.82 619.94,402.76 625.22,404.52" fill="#828282"/>
<circle cx="597.70" cy="466.60" r="9.3" fill="none" stroke="#828282" stroke-width="1.6"/>
<polygon points="601.88,462.42 593.74,468.36 599.02,470.12" fill="#828282"/>
<circle cx="533.60" cy="489.60" r="9.3" fill="none" stroke="#828282" stroke-width="1.6"/>
<polygon points="537.78,485.42 529.64,491.36 534.92,493.12" fill="#828282"/>
<circle cx="473.10" cy="464.40" r="9.3" fill="none" stroke="#828282" stroke-width="1.6"/>
<polygon points="477.28,460.22 469.14,466.16 474.42,467.92" fill="#828282"/>
<circle cx="446.50" cy="400.80" r="9.3" fill="none" stroke="#828282" stroke-width="1.6"/>
<polygon points="450.68,396.62 442.54,402.56 447.82,404.32" fill="#828282"/>
<circle cx="473.10" cy="338.60" r="9.3" fill="none" stroke="#828282" stroke-width="1.6"/>
<polygon points="477.28,334.42 469.14,340.36 474.42,342.12" fill="#828282"/>
<text x="533.70" y="293.60" font-size="13" text-anchor="middle" fill="#1a1a1a" stroke="#1a1a1a" stroke-width="0.25" dominant-baseline="central">DA1</text>
<text x="623.30" y="325.20" font-size="13" text-anchor="middle" fill="#1a1a1a" stroke="#1a1a1a" stroke-width="0.25" dominant-baseline="central">DA2</text>
<text x="655.50" y="402.80" font-size="13" text-anchor="middle" fill="#1a1a1a" stroke="#1a1a1a" stroke-width="0.25" dominant-baseline="central">DA3</text>
<text x="624.10" y="479.00" font-size="13" text-anchor="middle" fill="#1a1a1a" stroke="#1a1a1a" stroke-width="0.25" dominant-baseline="central">DA4</text>
<text x="533.70" y="511.30" font-size="13" text-anchor="middle" fill="#1a1a1a" stroke="#1a1a1a" stroke-width="0.25" dominant-baseline="central">DA5</text>
<text x="444.00" y="479.00" font-size="13" text-anchor="middle" fill="#1a1a1a" stroke="#1a1a1a" stroke-width="0.25" dominant-baseline="central">DA6</text>
<text x="412.00" y="402.80" font-size="13" text-anchor="middle" fill="#1a1a1a" stroke="#1a1a1a" stroke-width="0.25" dominant-baseline="central">DA7</text>
<text x="444.10" y="325.20" font-size="13" text-anchor="middle" fill="#1a1a1a" stroke="#1a1a1a" stroke-width="0.25" dominant-baseline="central">DA8</text>
<text x="533.90" y="278.40" font-size="20.5" font-weight="bold" text-anchor="middle" fill="#000">ANN</text>
<rect x="308.2" y="229.2" width="64.2" height="74.2" fill="#fff" stroke="#4a4a4a" stroke-width="1.3"/>
<line x1="311.2" y1="239.2" x2="340.5" y2="239.2" stroke="#ff8246" stroke-width="2"/>
<circle cx="325.8" cy="239.2" r="1.4" fill="#ff8246"/>
<text x="342.2" y="239.5" font-size="13" fill="#1a1a1a" stroke="#1a1a1a" stroke-width="0.25" dominant-baseline="central">20%</text>
<line x1="311.2" y1="257.2" x2="340.5" y2="257.2" stroke="#e25670" stroke-width="2" stroke-dasharray="7.2,4.8"/>
<circle cx="325.8" cy="257.2" r="1.4" fill="#e25670"/>
<text x="342.2" y="257.5" font-size="13" fill="#1a1a1a" stroke="#1a1a1a" stroke-width="0.25" dominant-baseline="central">40%</text>
<line x1="311.2" y1="275.2" x2="340.5" y2="275.2" stroke="#c8329a" stroke-width="2" stroke-dasharray="2,1.6"/>
<circle cx="325.8" cy="275.2" r="1.4" fill="#c8329a"/>
<text x="342.2" y="275.5" font-size="13" fill="#1a1a1a" stroke="#1a1a1a" stroke-width="0.25" dominant-baseline="central">60%</text>
<line x1="311.2" y1="293.0" x2="340.5" y2="293.0" stroke="#8c00dc" stroke-width="2" stroke-dasharray="7.2,1.5,2.5,1.1"/>
<circle cx="325.8" cy="293.0" r="1.4" fill="#8c00dc"/>
<text x="342.2" y="293.3" font-size="13" fill="#1a1a1a" stroke="#1a1a1a" stroke-width="0.25" dominant-baseline="central">80%</text>
</svg>
</body></html>
